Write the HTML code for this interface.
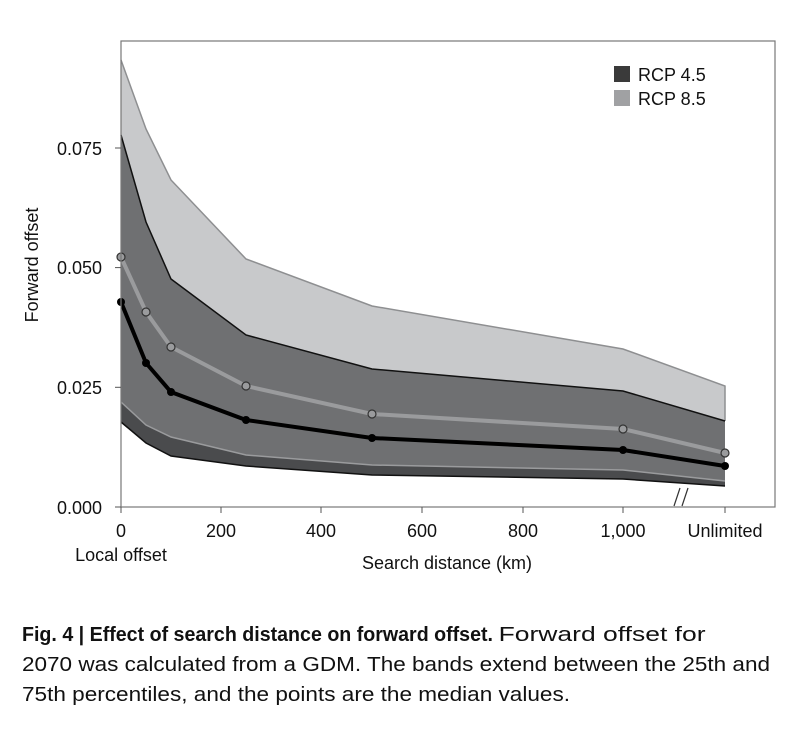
<!DOCTYPE html>
<html><head><style>html,body{margin:0;padding:0;background:#fff}svg{display:block}</style></head>
<body>
<svg width="800" height="736" viewBox="0 0 800 736" xmlns="http://www.w3.org/2000/svg" font-family="Liberation Sans, sans-serif">
<rect width="800" height="736" fill="#fff"/>
<polygon fill="#c8c9cb" points="121,60 146,129 171,180 246,259 372,306 623,349 725,386 725,486 623,479 372,475 246,466 171,456 146,443 121,422"/>
<polygon fill="#6f7072" points="121,135 146,222 171,279 246,335 372,369 623,391 725,421 725,481 623,470 372,465 246,455 171,437 146,425 121,402"/>
<polygon fill="#4a4b4d" points="121,402 146,425 171,437 246,455 372,465 623,470 725,481 725,486 623,479 372,475 246,466 171,456 146,443 121,422"/>
<polyline fill="none" stroke="#8e8f91" stroke-width="1.5" points="121,60 146,129 171,180 246,259 372,306 623,349 725,386 725,421"/>
<polyline fill="none" stroke="#111" stroke-width="1.5" points="121,135 146,222 171,279 246,335 372,369 623,391 725,421"/>
<polyline fill="none" stroke="#9a9b9d" stroke-width="1.5" points="121,402 146,425 171,437 246,455 372,465 623,470 725,481"/>
<polyline fill="none" stroke="#111" stroke-width="1.5" points="121,422 146,443 171,456 246,466 372,475 623,479 725,486"/>
<polyline fill="none" stroke="#9a9b9d" stroke-width="4" points="121,257 146,312 171,347 246,386 372,414 623,429 725,453"/>
<g fill="#9a9b9d" stroke="#333" stroke-width="1.2">
<circle cx="121" cy="257" r="4"/><circle cx="146" cy="312" r="4"/><circle cx="171" cy="347" r="4"/><circle cx="246" cy="386" r="4"/><circle cx="372" cy="414" r="4"/><circle cx="623" cy="429" r="4"/><circle cx="725" cy="453" r="4"/></g>
<polyline fill="none" stroke="#000" stroke-width="4" points="121,302 146,363 171,392 246,420 372,438 623,450 725,466"/>
<g fill="#000"><circle cx="121" cy="302" r="4"/><circle cx="146" cy="363" r="4"/><circle cx="171" cy="392" r="4"/><circle cx="246" cy="420" r="4"/><circle cx="372" cy="438" r="4"/><circle cx="623" cy="450" r="4"/><circle cx="725" cy="466" r="4"/></g>
<rect x="121" y="41" width="654" height="466" fill="none" stroke="#777" stroke-width="1.2"/>
<g stroke="#555" stroke-width="1">
<line x1="115" y1="507" x2="121" y2="507"/><line x1="115" y1="387.3" x2="121" y2="387.3"/><line x1="115" y1="267.6" x2="121" y2="267.6"/><line x1="115" y1="148" x2="121" y2="148"/>
<line x1="121" y1="507" x2="121" y2="513"/><line x1="221" y1="507" x2="221" y2="513"/><line x1="321" y1="507" x2="321" y2="513"/><line x1="422" y1="507" x2="422" y2="513"/><line x1="523" y1="507" x2="523" y2="513"/><line x1="623" y1="507" x2="623" y2="513"/><line x1="725" y1="507" x2="725" y2="513"/>
</g>
<g stroke="#333" stroke-width="1.2"><line x1="674" y1="506" x2="680" y2="488"/><line x1="682" y1="506" x2="688" y2="488"/></g>
<g font-size="18" fill="#111" text-anchor="end">
<text x="102" y="514">0.000</text><text x="102" y="394">0.025</text><text x="102" y="274">0.050</text><text x="102" y="155">0.075</text></g>
<g font-size="18" fill="#111" text-anchor="middle">
<text x="121" y="537">0</text><text x="221" y="537">200</text><text x="321" y="537">400</text><text x="422" y="537">600</text><text x="523" y="537">800</text><text x="623" y="537">1,000</text><text x="725" y="537">Unlimited</text>
<text x="121" y="561">Local offset</text><text x="447" y="569">Search distance (km)</text></g>
<text transform="translate(38,265) rotate(-90)" font-size="18" fill="#111" text-anchor="middle">Forward offset</text>
<rect x="614" y="66" width="16" height="16" fill="#3a3a3a"/><text x="638" y="81" font-size="18" fill="#111">RCP 4.5</text>
<rect x="614" y="90" width="16" height="16" fill="#a0a1a3"/><text x="638" y="105" font-size="18" fill="#111">RCP 8.5</text>
<g font-size="20" fill="#111">
<text x="22" y="641"><tspan font-weight="bold" textLength="471" lengthAdjust="spacingAndGlyphs">Fig. 4 | Effect of search distance on forward offset.</tspan><tspan> </tspan><tspan textLength="207" lengthAdjust="spacingAndGlyphs">Forward offset for</tspan></text>
<text x="22" y="671" textLength="748" lengthAdjust="spacingAndGlyphs">2070 was calculated from a GDM. The bands extend between the 25th and</text>
<text x="22" y="701" textLength="548" lengthAdjust="spacingAndGlyphs">75th percentiles, and the points are the median values.</text>
</g>
</svg>
</body></html>
